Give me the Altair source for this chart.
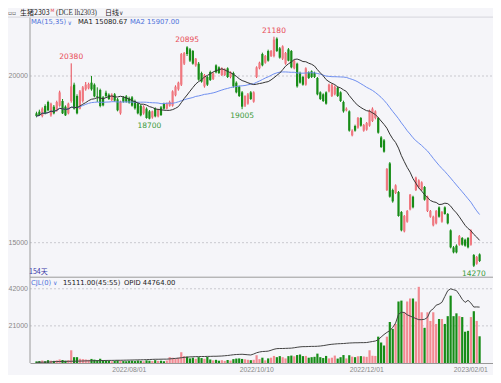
import altair as alt
import pandas as pd

# ---------------- data ----------------
opens = [18880, 18930, 18800, 19100, 19220, 18820, 19080, 18960, 19110, 19250,
         19080, 18880, 19250, 19740, 19400, 19020, 19250, 19600, 19630, 19800,
         19740, 19400, 19580, 19360, 19500, 19440, 19280, 19450, 19300, 18880,
         19360, 19390, 19330, 19360, 19250, 19170, 19110, 18880, 19020, 18940,
         18760, 19020, 18790, 19060, 19170, 19020, 19110, 19110, 19420, 19600,
         19740, 20370, 20860, 20800, 20750, 20320, 20370, 20090, 19690, 19970,
         20120, 19910, 20320, 20260, 20030, 20030, 20230, 19970, 20090, 19800,
         19680, 19510, 19110, 19170, 19510, 19230, 19970, 20230, 20660, 20400,
         20750, 20600, 20600, 21120, 20830, 20520, 20370, 20800, 20750, 20230,
         20370, 20090, 19970, 19740, 20110, 20140, 20090, 19940, 19510, 19450,
         19510, 19540, 19400, 19450, 19650, 19510, 19220, 18970, 18940, 18220,
         18500, 18450, 18740, 18360, 18390, 18510, 18650, 18740, 18740, 18160,
         18070, 16580, 17380, 16580, 16490, 16520, 15920, 15340, 15630, 16000,
         16380, 16580, 16660, 16580, 16670, 15950, 15780, 15520, 15580, 16060,
         15630, 16060, 15860, 15370, 14860, 14910, 14940, 15140, 15090, 15140,
         14940, 14630, 14370, 14650]
highs = [18930, 18990, 19060, 19150, 19260, 19200, 19130, 19260, 19560, 19310,
         19120, 19200, 20380, 19800, 19450, 19580, 19700, 19820, 19800, 20000,
         19780, 19660, 19620, 19400, 19560, 19480, 19480, 19490, 19340, 19260,
         19400, 19430, 19380, 19400, 19290, 19200, 19150, 19120, 19060, 18980,
         18960, 19060, 19020, 19100, 19200, 19200, 19260, 19570, 19720, 19830,
         20690, 20720, 20895, 20840, 20780, 20540, 20420, 20130, 20060, 20000,
         20160, 20110, 20350, 20290, 20260, 20230, 20260, 20140, 20130, 19840,
         19710, 19550, 19420, 19490, 19550, 19540, 20290, 20430, 20700, 20630,
         20790, 20780, 21180, 21160, 20870, 20920, 20720, 20840, 20780, 20490,
         20400, 20130, 20000, 20260, 20140, 20170, 20130, 19970, 19540, 19480,
         19540, 19770, 19770, 19720, 19690, 19540, 19260, 19060, 18970, 18400,
         18540, 18770, 18770, 18560, 18620, 18990, 19060, 18970, 18770, 18200,
         18110, 17240, 17420, 16620, 16750, 16550, 15950, 15830, 15980, 16460,
         16410, 16980, 16900, 16840, 16700, 16410, 15980, 15810, 15980, 16090,
         15950, 16090, 15890, 15400, 14900, 14950, 15230, 15170, 15120, 15170,
         15400, 14660, 14600, 14680]
lows = [18760, 18800, 18760, 18850, 18940, 18780, 18850, 18930, 19080, 18860,
        18800, 18850, 19200, 18990, 18850, 19000, 19200, 19560, 19600, 19560,
        19360, 19220, 19060, 19090, 19360, 19280, 19250, 19230, 18940, 18840,
        19200, 19200, 19170, 19080, 18990, 18850, 18790, 18840, 18720, 18700,
        18720, 18760, 18760, 18800, 18990, 19000, 19080, 19080, 19390, 19560,
        19700, 20330, 20600, 20420, 20340, 20280, 19860, 19800, 19650, 19700,
        19850, 19880, 20080, 20060, 20000, 20000, 19940, 19930, 19650, 19480,
        19370, 19005, 19070, 19140, 19280, 19200, 19940, 20200, 20290, 20370,
        20430, 20570, 20560, 20720, 20520, 20480, 20340, 20440, 20230, 20200,
        19650, 19770, 19710, 19710, 19910, 19940, 19940, 19420, 19280, 19220,
        19140, 19510, 19370, 19420, 19370, 19220, 18900, 18940, 18330, 18190,
        18330, 18420, 18480, 18330, 18360, 18480, 18620, 18700, 18270, 17840,
        17700, 16550, 16350, 16200, 16460, 15780, 15340, 15310, 15600, 15970,
        16030, 16550, 16630, 16550, 16260, 15920, 15750, 15490, 15550, 15750,
        15600, 15840, 15550, 14830, 14680, 14680, 14910, 14910, 14880, 14830,
        14910, 14270, 14340, 14420]
closes = [18800, 18830, 19020, 18880, 18970, 19170, 18880, 19220, 19510, 18880,
          18820, 19170, 19690, 19020, 18880, 19540, 19660, 19740, 19760, 19600,
          19390, 19380, 19100, 19120, 19400, 19310, 19440, 19260, 18970, 19220,
          19230, 19230, 19200, 19110, 19030, 18880, 18820, 19080, 18740, 18720,
          18940, 18790, 18990, 18830, 19020, 19170, 19220, 19540, 19680, 19800,
          20660, 20690, 20660, 20460, 20370, 20520, 19890, 19830, 20030, 19740,
          19880, 20080, 20110, 20090, 20230, 20200, 19970, 20110, 19690, 19510,
          19400, 19080, 19400, 19450, 19310, 19510, 20260, 20400, 20320, 20600,
          20460, 20750, 21090, 20750, 20550, 20890, 20690, 20460, 20260, 20460,
          19690, 19800, 19740, 20230, 19940, 19970, 19970, 19450, 19310, 19250,
          19170, 19740, 19740, 19680, 19400, 19250, 18940, 19020, 18360, 18360,
          18360, 18740, 18510, 18530, 18590, 18960, 19020, 18940, 18300, 17870,
          17730, 17210, 16380, 16240, 16720, 15800, 15370, 15800, 15950, 16440,
          16060, 16950, 16870, 16810, 16290, 16380, 15950, 15780, 15950, 15780,
          15920, 15860, 15580, 14860, 14710, 14710, 15200, 14940, 14910, 14860,
          15370, 14310, 14570, 14450]
volume = [900, 1100, 1400, 1000, 1600, 1300, 1200, 1500, 2000, 1700,
          1300, 1600, 7200, 3300, 3300, 2400, 2200, 2000, 1800, 2300,
          1900, 1600, 2400, 1500, 1200, 1300, 1000, 1200, 1500, 1400,
          1100, 1000, 1200, 1300, 1100, 1400, 1200, 1000, 1500, 1300,
          1100, 1600, 1200, 1300, 1000, 1400, 3300, 3000, 2600, 3000,
          6100, 3900, 3600, 2600, 3000, 2400, 3300, 2800, 2400, 3400,
          2000, 1500, 1800, 1300, 1600, 1200, 1700, 1400, 2200, 2500,
          2600, 2300, 2100, 1800, 1600, 1800, 4400, 2200, 3000, 1500,
          2600, 3000, 4000, 3300, 3900, 3300, 2600, 3900, 4200, 3800,
          4500, 4800, 3900, 4000, 3000, 3300, 3500, 5300, 3300, 2800,
          4000, 2600, 3000, 4200, 2500, 3300, 4500, 2600, 4400, 3600,
          3300, 3800, 3900, 3700, 3500, 7200, 4100, 4000, 14900, 11600,
          9900, 14900, 23200, 19300, 22100, 34800, 35300, 28700, 34800, 36500,
          36500, 34800, 43100, 28700, 19900, 28700, 23800, 28700, 22100, 24900,
          24900, 22100, 26500, 38100, 26500, 28100, 26500, 26000, 17700, 18200,
          26000, 29300, 23800, 15111]
open_interest = [550, 600, 650, 700, 750, 800, 1100, 1150, 1200, 1250,
                 1300, 1350, 1400, 1450, 1500, 1550, 1600, 1700, 1750, 1800,
                 1850, 1900, 1950, 2000, 2050, 2100, 2100, 2150, 2200, 2200,
                 2250, 2300, 2350, 2400, 2450, 2500, 2550, 2600, 2700, 2800,
                 2900, 3000, 3000, 3050, 3100, 3100, 3300, 3500, 3700, 3900,
                 4200, 4500, 4700, 4900, 5000, 5100, 5100, 5200, 5200, 5300,
                 5300, 5400, 5400, 5500, 5600, 5800, 6000, 6300, 6600, 6800,
                 6900, 7000, 6800, 6600, 6400, 7200, 8200, 8800, 9200, 9300,
                 9500, 10200, 11000, 11500, 11600, 11600, 11700, 11800, 11900, 12200,
                 12600, 12900, 13100, 13100, 13200, 13300, 13300, 13400, 13600, 13900,
                 14300, 14700, 15000, 15200, 15400, 15500, 15600, 15800, 16000, 16100,
                 16200, 16200, 16300, 16300, 16400, 16800, 17200, 17600, 18600, 20800,
                 22800, 24500, 25900, 28500, 32000, 39000, 40600, 40500, 38600, 37600,
                 36600, 35600, 34700, 34700, 35000, 36500, 41700, 43400, 46300, 47100,
                 48600, 53300, 57900, 59400, 58700, 58000, 54800, 51000, 48500, 50200,
                 48000, 44800, 44900, 44764]

date_idx = [26, 70, 108, 146]
date_labels = ["2022/08/01", "2022/10/10", "2022/12/01", "2023/02/01"]
price_ticks = [20000, 15000]
vol_ticks = [42000, 21000]
peak_idx = [12, 52, 82]
peak_val = [20380, 20895, 21180]
trough_idx = [39, 71, 151]
trough_val = [18700, 19005, 14270]

# ---------------- styling / geometry ----------------
W, H = 463, 355
PAD_L = 22
RED, RED_BODY, RED_VOL = "#e84a55", "#f07880", "#f28a92"
GREEN = "#178c17"
BLUE = "#4f73d9"
GRAY = "#888888"
FONT = "DejaVu Sans"
AXF = "Liberation Sans"
CJK = "Noto Sans CJK SC"
Y_TOP = 9.6      # top of price panel
Y_SEP = 269.2    # separator between price and volume panels

df = pd.DataFrame({"i": list(range(len(closes))), "o": opens, "h": highs,
                   "l": lows, "c": closes, "v": volume, "oi": open_interest})

expr = "''"
for v, lab in reversed(list(zip(date_idx, date_labels))):
    expr = f"datum.value == {v} ? '{lab}' : {expr}"

XS = alt.Scale(domain=[-0.507, 155.9], nice=False, zero=False)
X = alt.X("i:Q", scale=XS, axis=alt.Axis(
    values=date_idx, labelExpr=expr, labelAlign="left",
    labelOffset=alt.condition(f"datum.value == {date_idx[-1]}", alt.value(-6), alt.value(0)),
    ticks=False, grid=False, domainColor="#999999", labelColor=GRAY, labelFontSize=6.8,
    labelFont=AXF, labelPadding=3, title=None, labelOverlap=False, labelFlush=False))
PRICE = alt.Scale(domain=[13965, 21752], range=[Y_SEP, Y_TOP], zero=False, nice=False)
VOL = alt.Scale(domain=[0, 48545], range=[H, Y_SEP], nice=False)
OI = alt.Scale(domain=[0, 68700], range=[H, Y_SEP], nice=False)

up = "datum.c >= datum.o"
base = alt.Chart(df)

wicks = base.mark_rule(strokeWidth=1).encode(
    x=X, y=alt.Y("l:Q", scale=PRICE, axis=None), y2="h:Q",
    color=alt.condition(up, alt.value(RED), alt.value(GREEN)))
bodies = base.mark_bar(size=2.2).encode(
    x=X, y=alt.Y("o:Q", scale=PRICE, axis=None), y2="c:Q",
    color=alt.condition(up, alt.value(RED_BODY), alt.value(GREEN)))

ma = base.transform_window(ma1="mean(c)", frame=[-14, 0], sort=[alt.SortField("i")]) \
         .transform_window(ma2="mean(c)", frame=[-34, 0], sort=[alt.SortField("i")])
ma1 = ma.mark_line(color="#333333", strokeWidth=1).encode(x=X, y=alt.Y("ma1:Q", scale=PRICE, axis=None))
ma2 = ma.mark_line(color="#6f8ff0", strokeWidth=1).encode(x=X, y=alt.Y("ma2:Q", scale=PRICE, axis=None))

vol_bars = base.mark_bar(size=2.2).encode(
    x=X, y=alt.Y("v:Q", scale=VOL, axis=None),
    color=alt.condition(up, alt.value(RED_VOL), alt.value(GREEN)))
oi_line = base.mark_line(color="#444444", strokeWidth=1).encode(
    x=X, y=alt.Y("oi:Q", scale=OI, axis=None))

pt = pd.DataFrame({"p": price_ticks})
vt = pd.DataFrame({"p": vol_ticks})
pgrid = alt.Chart(pt).mark_rule(strokeDash=[2, 2], color="#c9c9cf").encode(
    y=alt.Y("p:Q", scale=PRICE, axis=None), x=alt.value(0), x2=alt.value(W))
plab = alt.Chart(pt).mark_text(align="right", baseline="middle", fontSize=7, font=AXF, color=GRAY).encode(
    y=alt.Y("p:Q", scale=PRICE, axis=None), x=alt.value(-2), text=alt.Text("p:Q", format="d"))
vgrid = alt.Chart(vt).mark_rule(strokeDash=[2, 2], color="#c9c9cf").encode(
    y=alt.Y("p:Q", scale=VOL, axis=None), x=alt.value(0), x2=alt.value(W))
vlab = alt.Chart(vt).mark_text(align="right", baseline="middle", fontSize=7, font=AXF, color=GRAY).encode(
    y=alt.Y("p:Q", scale=VOL, axis=None), x=alt.value(-2), text=alt.Text("p:Q", format="d"))

peaks = alt.Chart(pd.DataFrame({"i": peak_idx, "val": peak_val})).mark_text(
    baseline="bottom", dy=-2, fontSize=7.5, font=FONT, color=RED).encode(
    x=X, y=alt.Y("val:Q", scale=PRICE, axis=None), text=alt.Text("val:Q", format="d"))
troughs = alt.Chart(pd.DataFrame({"i": trough_idx, "val": trough_val})).mark_text(
    baseline="top", dy=3, fontSize=7.5, font=FONT, color="#3a9a3a").encode(
    x=X, y=alt.Y("val:Q", scale=PRICE, axis=None), text=alt.Text("val:Q", format="d"))

one = pd.DataFrame({"a": [0]})


def rule(x, x2, y, y2, color):
    return alt.Chart(one).mark_rule(color=color, strokeWidth=1).encode(
        x=alt.value(x), x2=alt.value(x2), y=alt.value(y), y2=alt.value(y2))


def txt(s, x, y, color="#222222", size=6.8, font=FONT):
    return alt.Chart(one).mark_text(text=s, align="left", baseline="middle", fontSize=size,
                                    font=font, color=color).encode(x=alt.value(x), y=alt.value(y))


frame = [
    rule(-PAD_L, W, 9.1, 9.1, "#d6d6dc"),
    rule(0, 0, Y_TOP, H, "#9a9a9a"),
    rule(0, W, Y_SEP, Y_SEP, "#9a9a9a"),
]
texts = [
    txt("▫▫", -22, 4.8, "#555555", 6),
    txt("生猪2303", -10, 4.8, "#222222", 7, CJK),
    txt("M", 20.5, 3.3, RED, 4.5),
    txt("(DCE lh2303)", 26, 4.8, "#333333", 7.2, "Liberation Serif"),
    txt("日线", 75, 4.8, "#222222", 7, CJK),
    txt("∨", 89, 5.2, "#444444", 6),
    txt("MA(15,35)", 1, 14.4, BLUE),
    txt("∨", 37.5, 14.9, BLUE, 6),
    txt("MA1 15080.67", 48, 14.4, "#222222"),
    txt("MA2 15907.00", 100, 14.4, BLUE),
    txt("154天", -1, 263.5, "#3a3aa8", 7, CJK),
    txt("CJL(0)", 1, 274.7, BLUE),
    txt("∨", 23, 275.2, BLUE, 6),
    txt("15111.00(45:55)", 33, 274.7, "#222222"),
    txt("OPID 44764.00", 94, 274.7, "#222222"),
]

chart = alt.layer(
    pgrid, vgrid, *frame, wicks, bodies, ma2, ma1, vol_bars, oi_line,
    plab, vlab, peaks, troughs, *texts
).resolve_scale(y="independent").properties(
    width=W, height=H,
    padding={"left": PAD_L, "top": 0, "right": 0, "bottom": 12},
    autosize=alt.AutoSizeParams(type="none"),
    background="#f5f5f9",
).configure_view(stroke=None)

chart.save("out.html", embed_options={"renderer": "svg", "actions": False})
